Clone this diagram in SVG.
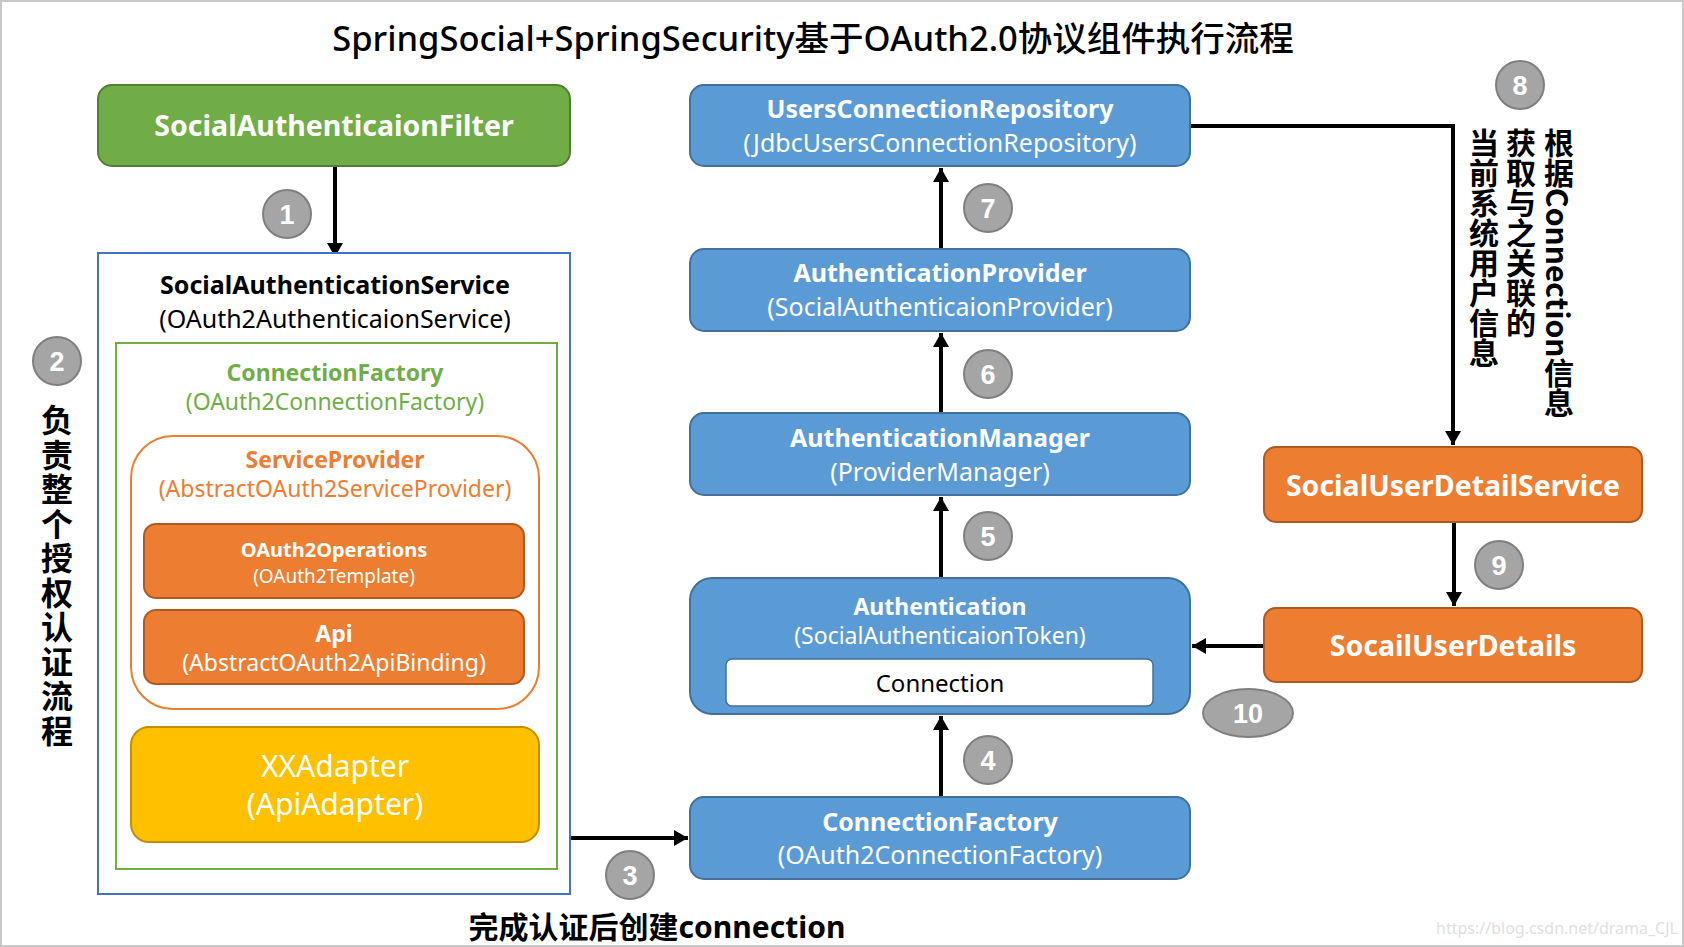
<svg xmlns="http://www.w3.org/2000/svg" width="1684" height="947" viewBox="0 0 1684 947">
<style>
text{font-family:"Noto Sans","Noto Sans CJK SC",sans-serif;text-anchor:middle}
.w{fill:#fff}
.b{font-weight:bold}
.blue{fill:#5B9BD5;stroke:#41719C;stroke-width:2}
.org{fill:#ED7D31;stroke:#AE5A21;stroke-width:2}
.num circle,.num ellipse{fill:#A5A5A5;stroke:#7F7F7F;stroke-width:2}
.num text{fill:#fff;font-weight:bold;font-size:27px;font-family:"Liberation Sans",sans-serif}
.line{stroke:#000;stroke-width:4;fill:none;marker-end:url(#ah)}
.vt{writing-mode:vertical-rl;text-anchor:start;font-family:"Noto Sans CJK SC",sans-serif}
</style>
<defs>
<marker id="ah" markerUnits="userSpaceOnUse" markerWidth="20" markerHeight="20" refX="14" refY="8" orient="auto">
<path d="M0,0 L14,8 L0,16 Z" fill="#000"/>
</marker>
</defs>
<rect x="1" y="1" width="1682" height="945" fill="#fff" stroke="#c8c8c8" stroke-width="2"/>
<text x="813" y="51" font-size="34.5" fill="#000" font-weight="500">SpringSocial+SpringSecurity基于OAuth2.0协议组件执行流程</text>

<g id="connectors">
<path class="line" d="M335,166 V257"/>
<path class="line" d="M570,838 H688"/>
<path class="line" d="M941,797 V716"/>
<path class="line" d="M941,578 V497"/>
<path class="line" d="M941,413 V333"/>
<path class="line" d="M941,249 V168"/>
<path class="line" d="M1190,126 H1453 V445"/>
<path class="line" d="M1454,522 V606"/>
<path class="line" d="M1264,646 H1192"/>
</g>

<g id="filter">
<rect x="98" y="85" width="472" height="81" rx="14" fill="#70AD47" stroke="#507E32" stroke-width="2"/>
<text x="334" y="136" font-size="28.5" class="w b">SocialAuthenticaionFilter</text>
</g>

<g id="service">
<rect x="98" y="253" width="472" height="641" fill="#fff" stroke="#4472C4" stroke-width="2"/>
<text x="335" y="294" font-size="25" class="b" fill="#000">SocialAuthenticationService</text>
<text x="335" y="328" font-size="25" fill="#000">(OAuth2AuthenticaionService)</text>
</g>

<g id="connectionFactoryInner">
<rect x="116" y="343" width="441" height="526" fill="none" stroke="#70AD47" stroke-width="2"/>
<text x="335" y="381" font-size="23" class="b" fill="#70AD47">ConnectionFactory</text>
<text x="335" y="410" font-size="23" fill="#70AD47">(OAuth2ConnectionFactory)</text>
</g>

<g id="serviceProvider">
<rect x="131" y="436" width="408" height="273" rx="42" fill="none" stroke="#ED7D31" stroke-width="2"/>
<text x="335" y="468" font-size="23" class="b" fill="#ED7D31">ServiceProvider</text>
<text x="335" y="497" font-size="23" fill="#ED7D31">(AbstractOAuth2ServiceProvider)</text>
</g>

<g id="oauth2Operations">
<rect x="144" y="524" width="380" height="74" rx="12" class="org"/>
<text x="334" y="557" font-size="20" class="w b">OAuth2Operations</text>
<text x="334" y="583" font-size="19" class="w">(OAuth2Template)</text>
</g>

<g id="api">
<rect x="144" y="610" width="380" height="74" rx="12" class="org"/>
<text x="334" y="642" font-size="23" class="w b">Api</text>
<text x="334" y="671" font-size="23" class="w">(AbstractOAuth2ApiBinding)</text>
</g>

<g id="adapter">
<rect x="131" y="727" width="408" height="115" rx="18" fill="#FFC000" stroke="#BF9000" stroke-width="2"/>
<text x="335" y="777" font-size="30" class="w">XXAdapter</text>
<text x="335" y="815" font-size="30" class="w">(ApiAdapter)</text>
</g>

<g id="label2">
<text class="vt b" x="57" y="404" font-size="32" letter-spacing="2.5" fill="#000">负责整个授权认证流程</text>
</g>

<g id="label3">
<text x="657" y="938" font-size="30" class="b" fill="#000">完成认证后创建connection</text>
</g>

<g id="usersConnectionRepository">
<rect x="690" y="85" width="500" height="81" rx="14" class="blue"/>
<text x="940" y="118" font-size="25" class="w b">UsersConnectionRepository</text>
<text x="940" y="152" font-size="25" class="w">(JdbcUsersConnectionRepository)</text>
</g>

<g id="authenticationProvider">
<rect x="690" y="249" width="500" height="82" rx="14" class="blue"/>
<text x="940" y="282" font-size="25" class="w b">AuthenticationProvider</text>
<text x="940" y="316" font-size="25" class="w">(SocialAuthenticaionProvider)</text>
</g>

<g id="authenticationManager">
<rect x="690" y="413" width="500" height="82" rx="14" class="blue"/>
<text x="940" y="447" font-size="25" class="w b">AuthenticationManager</text>
<text x="940" y="481" font-size="25" class="w">(ProviderManager)</text>
</g>

<g id="authentication">
<rect x="690" y="578" width="500" height="136" rx="22" class="blue"/>
<text x="940" y="615" font-size="23" class="w b">Authentication</text>
<text x="940" y="644" font-size="23" class="w">(SocialAuthenticaionToken)</text>
<rect x="726" y="659" width="427" height="47" rx="6" fill="#fff" stroke="#41719C" stroke-width="1.5"/>
<text x="940" y="692" font-size="24" fill="#000">Connection</text>
</g>

<g id="connectionFactory">
<rect x="690" y="797" width="500" height="82" rx="14" class="blue"/>
<text x="940" y="831" font-size="25" class="w b">ConnectionFactory</text>
<text x="940" y="864" font-size="25" class="w">(OAuth2ConnectionFactory)</text>
</g>

<g id="socialUserDetailService">
<rect x="1264" y="447" width="378" height="75" rx="12" class="org"/>
<text x="1453" y="496" font-size="28.5" class="w b">SocialUserDetailService</text>
</g>

<g id="socailUserDetails">
<rect x="1264" y="608" width="378" height="74" rx="12" class="org"/>
<text x="1453" y="656" font-size="28.5" class="w b">SocailUserDetails</text>
</g>

<g id="label8text">
<text class="vt b" x="1559" y="128" font-size="30" fill="#000">根据Connection信息</text>
<text class="vt b" x="1521" y="128" font-size="30" fill="#000">获取与之关联的</text>
<text class="vt b" x="1484" y="128" font-size="30" fill="#000">当前系统用户信息</text>
</g>

<g id="badges" class="num">
<g id="n1"><circle cx="287" cy="214" r="24"/><text x="287" y="224">1</text></g>
<g id="n2"><circle cx="57" cy="361" r="24"/><text x="57" y="371">2</text></g>
<g id="n3"><circle cx="630" cy="875" r="24"/><text x="630" y="885">3</text></g>
<g id="n4"><circle cx="988" cy="760" r="24"/><text x="988" y="770">4</text></g>
<g id="n5"><circle cx="988" cy="536" r="24"/><text x="988" y="546">5</text></g>
<g id="n6"><circle cx="988" cy="374" r="24"/><text x="988" y="384">6</text></g>
<g id="n7"><circle cx="988" cy="208" r="24"/><text x="988" y="218">7</text></g>
<g id="n8"><circle cx="1520" cy="85" r="24"/><text x="1520" y="95">8</text></g>
<g id="n9"><circle cx="1499" cy="565" r="24"/><text x="1499" y="575">9</text></g>
<g id="n10"><ellipse cx="1248" cy="713" rx="45" ry="24"/><text x="1248" y="723">10</text></g>
</g>

<text x="1557" y="934" font-size="16" fill="#e0e0e0" font-family="Liberation Sans,sans-serif">https://blog.csdn.net/drama_CJL</text>
</svg>
